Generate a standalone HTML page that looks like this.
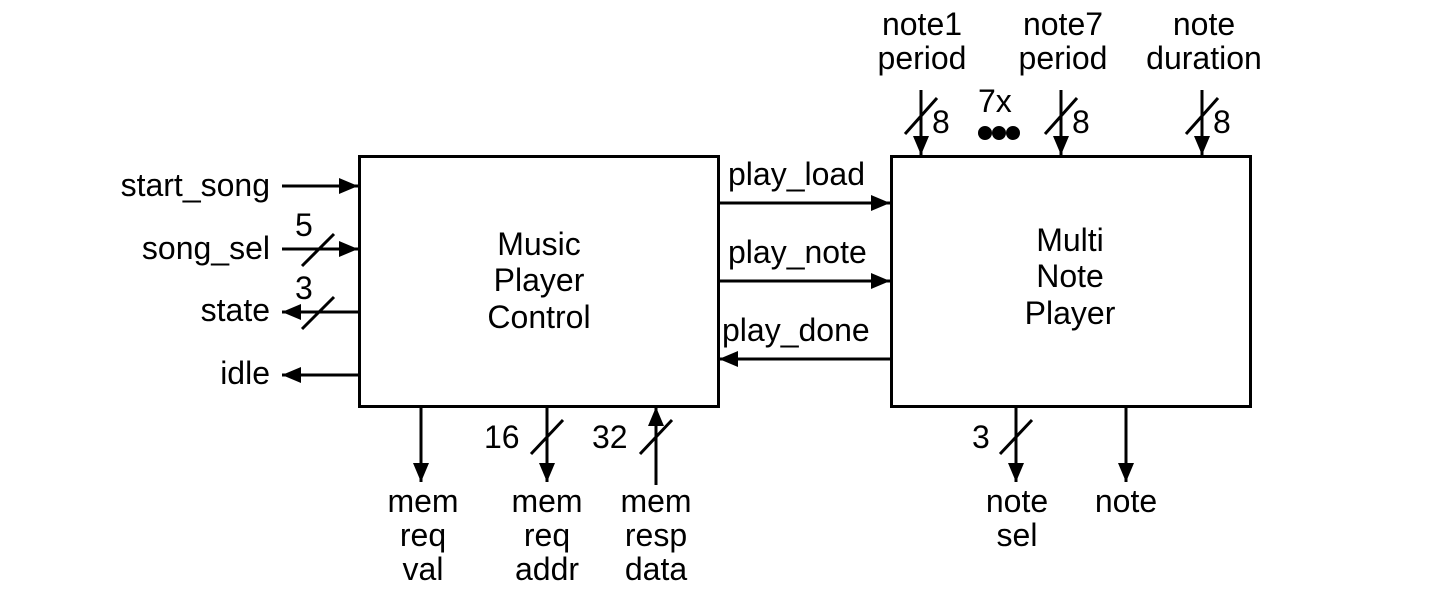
<!DOCTYPE html>
<html><head><meta charset="utf-8"><style>html,body{margin:0;padding:0;background:#fff}</style></head>
<body>
<svg width="1438" height="594" xmlns="http://www.w3.org/2000/svg" font-family="Liberation Sans, Arial, sans-serif" font-size="32" fill="#000">
<defs>
<marker id="a" markerWidth="20" markerHeight="16" refX="19" refY="8" orient="auto" markerUnits="userSpaceOnUse">
<path d="M0,0 L19,8 L0,16 Z" fill="#000"/></marker>
</defs>
<g stroke="#000" stroke-width="3" fill="none">
<rect x="359.5" y="156.5" width="359" height="250"/>
<rect x="891.5" y="156.5" width="359" height="250"/>
</g>
<g stroke="#000" stroke-width="3" marker-end="url(#a)">
<line x1="282" y1="186" x2="358" y2="186"/>
<line x1="282" y1="249" x2="358" y2="249"/>
<line x1="358" y1="312" x2="282" y2="312"/>
<line x1="358" y1="375" x2="282" y2="375"/>
<line x1="719" y1="203" x2="890" y2="203"/>
<line x1="719" y1="281" x2="890" y2="281"/>
<line x1="890" y1="359" x2="719" y2="359"/>
<line x1="921" y1="90" x2="921" y2="155"/>
<line x1="1061" y1="90" x2="1061" y2="155"/>
<line x1="1202" y1="90" x2="1202" y2="155"/>
<line x1="421" y1="407" x2="421" y2="482"/>
<line x1="547" y1="407" x2="547" y2="482"/>
<line x1="656" y1="485" x2="656" y2="407"/>
<line x1="1016" y1="407" x2="1016" y2="482"/>
<line x1="1126" y1="407" x2="1126" y2="482"/>
</g>
<g stroke="#000" stroke-width="3">
<line x1="302" y1="266" x2="334" y2="234"/>
<line x1="302" y1="329" x2="334" y2="297"/>
<line x1="905" y1="134" x2="937" y2="98"/>
<line x1="1045" y1="134" x2="1077" y2="98"/>
<line x1="1186" y1="134" x2="1218" y2="98"/>
<line x1="531" y1="454" x2="563" y2="420"/>
<line x1="640" y1="454" x2="672" y2="420"/>
<line x1="1000" y1="454" x2="1032" y2="420"/>
</g>
<circle cx="985" cy="133" r="7"/><circle cx="999" cy="133" r="7"/><circle cx="1013" cy="133" r="7"/>
<g text-anchor="end">
<text x="270" y="196">start_song</text>
<text x="270" y="259">song_sel</text>
<text x="270" y="321">state</text>
<text x="270" y="384">idle</text>
</g>
<text x="295" y="236">5</text>
<text x="295" y="299">3</text>
<text x="728" y="185">play_load</text>
<text x="728" y="263">play_note</text>
<text x="722" y="341">play_done</text>
<text x="932" y="133">8</text>
<text x="1072" y="133">8</text>
<text x="1213" y="133">8</text>
<text x="978" y="112">7x</text>
<text x="484" y="448">16</text>
<text x="592" y="448">32</text>
<text x="972" y="448">3</text>
<g text-anchor="middle">
<text x="539" y="255">Music</text><text x="539" y="291">Player</text><text x="539" y="328">Control</text>
<text x="1070" y="251">Multi</text><text x="1070" y="287">Note</text><text x="1070" y="324">Player</text>
<text x="922" y="35">note1</text><text x="922" y="69">period</text>
<text x="1063" y="35">note7</text><text x="1063" y="69">period</text>
<text x="1204" y="35">note</text><text x="1204" y="69">duration</text>
<text x="423" y="512">mem</text><text x="423" y="546">req</text><text x="423" y="580">val</text>
<text x="547" y="512">mem</text><text x="547" y="546">req</text><text x="547" y="580">addr</text>
<text x="656" y="512">mem</text><text x="656" y="546">resp</text><text x="656" y="580">data</text>
<text x="1017" y="512">note</text><text x="1017" y="546">sel</text>
<text x="1126" y="512">note</text>
</g>
</svg>
</body></html>
